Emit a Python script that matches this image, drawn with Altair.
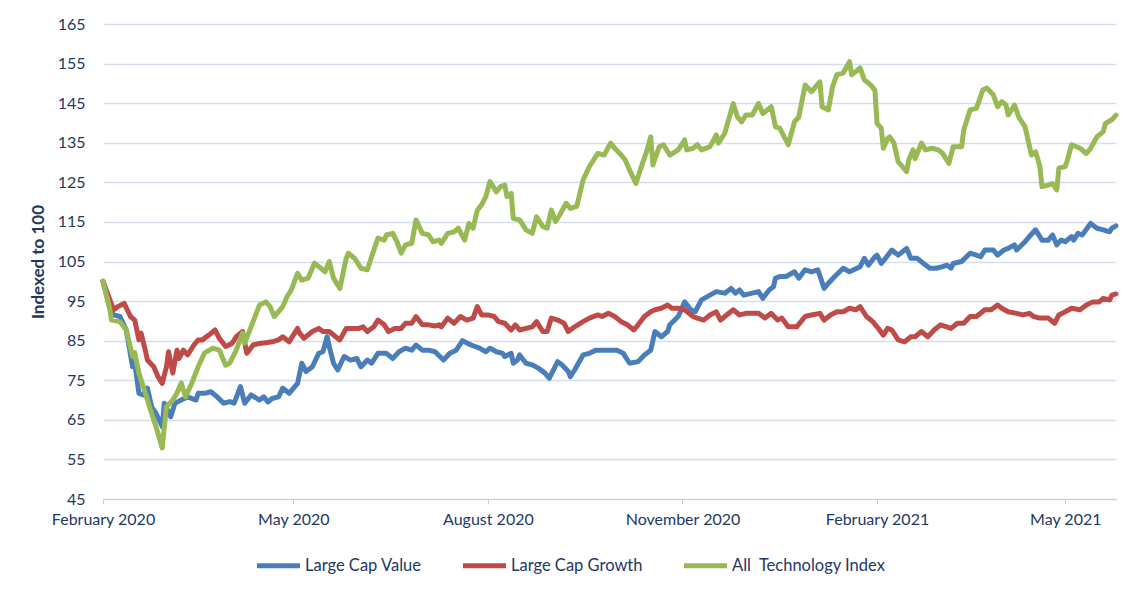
import altair as alt
import pandas as pd

START = "2020-02-01"
series_names = ["Large Cap Value", "Large Cap Growth", "All\u00a0 Technology Index"]
series_colors = ["#4A7EBB", "#BE4B48", "#98B954"]

# days after 1 Feb 2020, index level (base 100)
value_days = [0,3,5,8,11,14,15,17,19,21,23,25,28,29,32,34,37,40,44,45,48,51,54,57,60,62,65,67,70,74,76,78,80,83,85,88,92,94,96,99,102,104,106,107,109,111,114,117,120,122,125,127,130,134,137,140,143,146,148,151,154,157,161,164,167,170,174,178,181,183,186,189,190,193,194,196,197,200,203,206,209,211,213,215,217,220,221,223,227,230,233,237,240,243,246,249,253,256,259,261,264,267,268,272,273,275,278,280,283,287,290,294,297,299,301,303,307,310,312,315,317,318,320,323,327,329,332,335,338,341,343,346,350,353,355,358,360,362,365,366,368,370,373,376,380,382,385,388,391,394,397,399,401,402,406,410,413,415,417,421,423,426,428,431,432,436,438,441,444,447,449,451,453,455,458,459,461,463,467,470,473,476,477,479]
value_idx = [100,93.6,91.5,91.1,87.7,78.4,79.3,71.7,71.3,73,68.3,66.7,63.3,69.2,65.8,69.2,70,70.8,70,71.7,71.7,72.1,70.8,69.2,69.6,69.2,73.4,69.2,71.3,70,70.8,69.5,70.4,70.8,73,71.7,74.2,79.3,77.2,78.4,81.8,82.2,86,83.5,79.3,77.6,81,80.1,80.5,78.4,80.1,79.3,81.8,81.8,80.5,82.2,83.1,82.6,83.9,82.6,82.6,82.2,80.1,81.8,82.6,85,83.9,83.1,82.2,83.1,82.2,81.8,81,81.8,79.3,80.1,81.4,79.3,78.9,78,76.8,75.5,77.6,79.7,78.9,77.2,75.9,77.6,81.4,81.8,82.6,82.6,82.6,82.6,81.8,79.3,79.7,81.4,82.6,87.3,86,87.3,89,91.1,92.3,94.8,92.8,92.3,95.3,96.5,97.4,97,98.2,97,97.8,96.5,97,97.4,95.7,97.8,98.6,100.8,101.2,101.2,102.4,100.8,102.9,102.4,102.9,98.2,99.5,101.2,103.3,102.4,102.9,103.7,105.8,104.1,106.2,106.6,104.5,105.8,107.9,106.6,108.3,105.8,105.8,104.5,103.3,103.3,103.7,104.1,103.3,104.5,105,107.1,106.6,106.2,107.9,107.9,106.6,107.9,108.3,109.2,107.9,110,111.3,113,110.4,110.4,111.7,109.2,110.4,110,111.3,110.4,112.1,111.7,114.6,113.4,113,112.5,113.4,114]

growth_days = [0,3,5,7,10,13,15,17,18,20,21,24,26,28,30,31,33,35,36,38,40,43,45,47,50,53,55,58,61,63,66,68,71,74,77,80,83,85,88,92,93,95,99,102,104,107,110,112,115,118,121,123,125,128,130,133,135,138,141,143,146,148,151,154,157,159,160,163,166,169,172,175,177,179,182,185,187,190,193,195,197,200,203,205,208,210,212,215,218,220,223,227,230,234,236,239,242,245,248,251,253,256,259,261,264,267,269,272,275,279,281,284,287,290,292,294,298,301,304,307,310,313,316,319,321,324,328,332,335,339,341,344,347,350,353,356,358,361,364,366,369,371,373,376,379,382,384,387,390,393,396,399,401,404,407,410,413,417,420,423,425,428,432,435,438,440,443,447,450,452,455,458,462,465,468,471,473,476,477,479]
growth_idx = [100,95.7,92.8,93.6,94.4,91.1,90.2,85.2,86.9,82.6,80.1,78.4,75.9,74.2,78.4,82.2,76.8,82.6,80.5,82.6,81.4,83.9,85.2,85.2,86.4,87.7,85.6,83.5,84.3,86,87.3,81.8,83.9,84.3,84.5,84.7,85.2,86,84.7,88.1,86.9,85.6,87.3,88.1,87.3,87.3,86,85.2,88.1,88.1,88.1,88.5,87.3,88.5,90.2,89,87.3,88.1,88.1,89.4,89.4,91.1,89,89,88.7,89,88.5,90.7,89.4,91.1,90.2,90.7,93.6,91.5,91.5,91.1,89.8,89.4,87.7,89,87.7,88.1,88.5,89.8,87.3,87.3,90.7,90.2,89.4,87.3,88.5,89.8,90.7,91.5,91.1,91.9,91.1,89.8,89,87.7,89,91.1,92.3,92.8,93.2,94,93.2,93.2,92.8,91.1,90.7,90.2,91.5,92.3,90.2,91.1,92.8,91.5,91.9,91.9,91.9,90.7,91.9,90.2,90.7,88.5,88.5,91.1,91.5,91.9,90.2,91.5,92.3,92.3,93.2,92.8,93.6,91.1,89.8,88.5,86.4,88.1,87.7,85.2,84.7,86,86,87.3,86,87.7,89,88.5,88.1,89.4,89.4,91.1,91.1,92.8,92.8,94,93.2,92.3,91.9,91.5,91.9,91.1,90.7,90.7,89.4,91.5,92.3,93.2,92.8,94,94.8,94.8,95.7,95.3,96.5,96.8]

tech_days = [0,3,4,8,11,14,15,17,20,22,25,26,28,30,33,35,37,39,42,45,48,52,55,58,60,63,66,67,70,74,77,79,81,85,87,89,92,94,97,100,103,105,107,109,112,115,116,119,122,125,127,130,133,134,137,139,141,143,146,148,151,154,156,159,160,163,166,168,171,173,175,177,179,181,183,186,188,190,191,193,194,197,200,203,205,208,210,212,214,216,219,221,224,227,230,233,234,237,240,242,245,247,249,252,254,257,259,260,263,265,268,272,275,276,279,281,283,287,290,291,294,298,300,302,304,307,310,312,316,318,320,324,327,329,332,335,339,340,343,345,347,350,353,354,356,358,360,363,365,366,368,369,371,372,374,376,380,381,383,384,387,389,392,395,397,400,402,406,407,410,413,416,418,421,423,425,427,428,431,433,436,439,441,443,444,447,449,451,452,455,456,458,462,465,467,470,473,474,477,479]
tech_idx = [100,93.6,90.2,89.8,87.7,81,82,76.8,71.8,68.3,63.3,61.6,57.9,68.3,70,71.8,74.3,70.8,74.3,78.4,81.9,83.1,82.6,78.8,79.4,82.6,86.9,84.4,88.5,94,94.8,93.6,91.1,93.6,96.1,97.8,102,100.3,100.8,104.6,103.3,102.4,105,100.8,98.2,105.8,107.1,105.8,103.3,102.9,106.2,110.9,110.4,111.7,112.1,110,107.1,109.2,109.6,115.5,112.1,111.7,110,110.4,109.6,112.1,112.5,113.4,110.4,114.6,113.4,118,119.3,121.4,125.2,122.6,123.9,124.3,121.4,122.2,115.9,115.5,113,112.1,116.3,113.8,113.4,118,115.1,116.8,119.7,118.4,118.9,125.6,129,131.5,132.3,131.9,134.9,133.6,131.9,130.6,128.1,124.7,128.1,132.7,136.5,129.4,134,134.5,131.9,133.2,135.7,133.2,133.6,134.5,133.2,134,137,134.9,137.4,144.9,141.5,140.3,142,142,144.9,142.4,144.1,139,138.7,134.5,140.3,141.5,149.6,147.9,150.4,144.1,143.3,149.2,152.2,152.6,155.5,152.2,153,153.9,150.9,149.6,148.3,139.9,138.7,133.6,136.1,136.5,134.9,130.2,127.7,130.6,133.2,131,134.9,133.2,133.6,133.2,132.3,129.8,134,134,138.2,143.3,143.7,148.3,148.8,147.1,144.1,145.4,144.5,142,144.5,141.5,139,131.9,132.7,129,123.9,124.3,124.7,123.1,128.6,129,130.6,134.5,133.6,132.3,133.6,136.5,137.8,139.9,140.8,142]

y_ticks = [45, 55, 65, 75, 85, 95, 105, 115, 125, 135, 145, 155, 165]
x_tick_months = [(2020, 2), (2020, 5), (2020, 8), (2020, 11), (2021, 2), (2021, 5)]

assert len(value_days) == len(value_idx), (len(value_days), len(value_idx))
assert len(growth_days) == len(growth_idx), (len(growth_days), len(growth_idx))
assert len(tech_days) == len(tech_idx), (len(tech_days), len(tech_idx))

start = pd.Timestamp(START)
frames = []
for name, days, vals in [(series_names[0], value_days, value_idx),
                         (series_names[1], growth_days, growth_idx),
                         (series_names[2], tech_days, tech_idx)]:
    frames.append(pd.DataFrame({
        "date": [(start + pd.Timedelta(days=d)).strftime("%Y-%m-%d") for d in days],
        "series": name,
        "value": vals,
    }))
df = pd.concat(frames, ignore_index=True)

FONT = "Lato"
TXT = "#1F3864"

x_vals = [alt.DateTime(year=y, month=m, date=1) for y, m in x_tick_months]

chart = alt.Chart(df).mark_line(strokeWidth=5, strokeJoin="round", strokeCap="round").encode(
    x=alt.X("date:T",
            scale=alt.Scale(domain=[alt.DateTime(year=2020, month=2, date=1),
                                    alt.DateTime(year=2021, month=5, date=25)]),
            axis=alt.Axis(values=x_vals, format="%B %Y", title=None, grid=False,
                          tickSize=5, tickColor="#C5CCD8", domainColor="#C5CCD8",
                          labelPadding=7, labelFontSize=16, labelColor=TXT, labelFont=FONT,
                          labelFlush=False, labelOverlap=False)),
    y=alt.Y("value:Q",
            scale=alt.Scale(domain=[45, 165], nice=False, zero=False),
            axis=alt.Axis(values=y_ticks, title="Indexed to 100", ticks=False, domain=False,
                          gridColor="#D5DEEE", gridWidth=1.5,
                          labelPadding=18, labelFontSize=16, labelColor=TXT, labelFont=FONT,
                          titleFont=FONT, titleFontSize=17, titleFontWeight="bold",
                          titleColor=TXT, titlePadding=10)),
    color=alt.Color("series:N",
                    scale=alt.Scale(domain=series_names, range=series_colors),
                    legend=alt.Legend(title=None, orient="none", direction="horizontal",
                                      legendX=151, legendY=517,
                                      symbolType="stroke", symbolSize=1850,
                                      symbolStrokeWidth=5, labelOffset=2,
                                      columnPadding=30, labelFontSize=16.5,
                                      labelFont=FONT, labelColor=TXT)),
).properties(
    width=1013, height=475,
    autosize=alt.AutoSizeParams(type="none"),
    padding={"left": 95, "top": 16, "right": 12, "bottom": 95},
).configure_view(stroke=None)

chart.save("out.html", embed_options={"renderer": "svg", "actions": False})
